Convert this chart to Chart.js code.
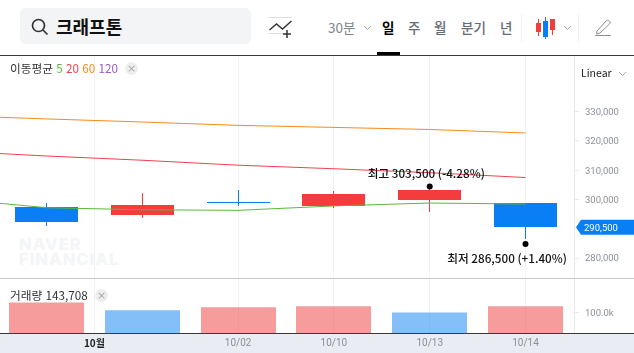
<!DOCTYPE html>
<html lang="ko">
<head>
<meta charset="utf-8">
<title>크래프톤</title>
<script src="https://cdn.jsdelivr.net/npm/chart.js@4"></script>
<style>
  html, body { margin: 0; padding: 0; background: #fff; }
  body { width: 634px; height: 353px; position: relative; overflow: hidden; font-family: "Noto Sans CJK KR", "Noto Sans", sans-serif; color: #333; }
  .abs { position: absolute; white-space: nowrap; }
  #search { left: 20px; top: 8px; width: 231px; height: 36px; border-radius: 6px; background: #f3f4f6; }
  #name { left: 56px; top: 13px; font-size: 18px; line-height: 26px; font-weight: 700; color: #111; }
  .tab { top: 17px; font-size: 13.5px; line-height: 20px; color: #666c75; font-weight: 500; }
  #topline { left: 0; top: 55px; width: 634px; height: 1px; background: #3a3a3a; }
  #active { left: 377px; top: 52px; width: 23px; height: 3px; background: #000; }
  .sep { top: 14px; width: 1px; height: 28px; background: #f1f2f4; }
  #band { left: 0; top: 333px; width: 574px; height: 20px; background: #e9ecf2; }
  #band2 { left: 574px; top: 334px; width: 60px; height: 19px; background: #e9ecf2; }
  #mark { left: 19px; top: 237px; font: 800 16.5px/14.5px Inter, sans-serif; letter-spacing: 1px; color: #f3f5f7; }
  canvas { position: absolute; left: 0; }
  #mainChart { top: 56px; }
  #volChart { top: 278px; }
  .lbl { font-size: 11.7px; line-height: 14px; color: #333; }
  .close { width: 13px; height: 13px; border-radius: 50%; background: #eeeeee; color: #aaa; font: 11px/13px "DejaVu Sans", sans-serif; text-align: center; }
</style>
</head>
<body>
<div class="abs" id="mark">NAVER<br>FINANCIAL</div>
<div class="abs" id="band"></div>
<div class="abs" id="band2"></div>
<canvas id="mainChart" width="634" height="222"></canvas>
<canvas id="volChart" width="634" height="75"></canvas>

<div class="abs" id="search"></div>
<svg class="abs" style="left:30px;top:17px" width="20" height="20" viewBox="0 0 20 20" fill="none" stroke="#333" stroke-width="1.7"><circle cx="8.5" cy="8.5" r="6"/><path d="M13 13l4.5 4.5"/></svg>
<div class="abs" id="name">크래프톤</div>
<svg class="abs" style="left:268px;top:16px" width="26" height="24" viewBox="0 0 26 24" fill="none"><path d="M1 1.5h23M1 17.5h14" stroke="#ddd" stroke-width="1"/><path d="M1.5 14l7-6 6 5 9-8" stroke="#333" stroke-width="1.4"/><path d="M19 14v8M15 18h8" stroke="#333" stroke-width="1.5"/></svg>
<div class="abs tab" style="left:328px;font-weight:400;color:#80858c">30분</div>
<svg class="abs" style="left:363px;top:25px" width="9" height="6" fill="none" stroke="#aaa"><path d="M1 1l3.500 3.500L8 1"/></svg>
<div class="abs tab" style="left:382px;color:#000;font-weight:700">일</div>
<div class="abs tab" style="left:408px">주</div>
<div class="abs tab" style="left:434px">월</div>
<div class="abs tab" style="left:461px">분기</div>
<div class="abs tab" style="left:500px">년</div>
<div class="abs sep" style="left:521px"></div>
<svg class="abs" style="left:535px;top:16px" width="24" height="24"><path d="M3.500 3v17M17.500 3v16" stroke="#f43c3c"/><path d="M10.500 1v22" stroke="#0a7ff5"/><rect x="1" y="7" width="5" height="9" fill="#f43c3c"/><rect x="8" y="5" width="5" height="16" fill="#0a7ff5"/><rect x="15" y="3" width="5" height="11" fill="#f43c3c"/></svg>
<svg class="abs" style="left:563px;top:25px" width="9" height="6" fill="none" stroke="#aaa"><path d="M1 1l3.500 3.500L8 1"/></svg>
<div class="abs sep" style="left:578px"></div>
<svg class="abs" style="left:594px;top:18px" width="18" height="19" fill="none" stroke="#8b8f96"><path d="M3 13L12 3c1-1 2.500-1 3.500 0s1 2 0 3L6 15l-3.500 1z"/><path d="M1 17.500h16"/></svg>
<div class="abs" id="topline"></div>
<div class="abs" id="active"></div>

<div class="abs lbl" style="left:10px;top:61px">이동평균 <span style="color:#5cb83c">5</span> <span style="color:#f0414c">20</span> <span style="color:#f98a1c">60</span> <span style="color:#9b59c9">120</span></div>
<div class="abs close" style="left:125px;top:62px">×</div>
<div class="abs" style="left:581px;top:66px;font-size:10.5px;line-height:14px;color:#222">Linear</div>
<svg class="abs" style="left:618px;top:71px" width="9" height="6" fill="none" stroke="#aaa"><path d="M1 1l3.500 3.500L8 1"/></svg>
<div class="abs lbl" style="left:10px;top:288px">거래량 143,708</div>
<div class="abs close" style="left:95px;top:289px">×</div>

<script>
const dates = ['09/30', '10/01', '10/02', '10/10', '10/13', '10/14'];
const opens = [297400, 294700, 299200, 297900, 299800, 298800];
const closes = [292300, 298100, 298900, 301900, 303400, 290500];
const highs = [298800, 302200, 303200, 302900, 303500, 298800];
const lows = [291000, 293700, 297900, 297100, 295800, 286500];
const volumes = [150000, 112000, 127000, 132000, 101000, 132000];
const volumeRising = [true, false, true, true, false, true];

// moving averages, first point sits one day before the visible window
const maDays = [-1, 0, 1, 2, 3, 4, 5];
const ma5 = [300300, 297200, 296500, 296300, 297800, 298800, 298450];
const ma20 = [316550, 314850, 313400, 311700, 310500, 309150, 307500];
const ma60 = [328670, 327500, 326450, 325300, 324600, 323900, 322700];

const xTickDays = [0.5, 2, 3, 4, 5];
const xTickLabels = ['10월', '10/02', '10/10', '10/13', '10/14'];
const priceTicks = [280000, 290000, 300000, 310000, 320000, 330000];
const volumeTicks = [100000];

const highDay = 4, highPrice = 303500, highDot = 304400, highText = '최고 303,500 (-4.28%)';
const lowDay = 5, lowPrice = 286500, lowDot = 284800, lowText = '최저 286,500 (+1.40%)';
const lastPrice = 290500;

const RED = '#f43c3c', BLUE = '#0a7ff5';
const candleColor = i => closes[i] >= opens[i] ? RED : BLUE;
const GRID = '#f0f2f6';

// same x range for both panes so the gridlines line up
const xBase = {
  type: 'linear', min: -0.4854, max: 5.506, offset: false,
  afterBuildTicks: s => { s.ticks = xTickDays.map(v => ({ value: v })); },
  border: { display: false },
  grid: { color: GRID, drawTicks: false, offset: false }
};

function rightAxis(min, max, values, fmt, axisColor) {
  return {
    type: 'linear', position: 'right', min, max,
    afterBuildTicks: s => { s.ticks = values.map(v => ({ value: v })); },
    afterFit: s => { s.width = 60; s.paddingTop = 0; s.paddingBottom = 0; },
    border: { display: true, color: axisColor },
    grid: { drawOnChartArea: false, tickLength: 5, tickColor: '#e8eaee' },
    ticks: { callback: fmt, color: '#8b909a', font: { size: 9.500, family: 'Roboto' }, padding: 6, labelOffset: 1, autoSkip: false, maxRotation: 0 }
  };
}

// keep candles on whole pixels like the original
const snapBars = {
  id: 'snapBars',
  afterDatasetsUpdate(chart) {
    chart.getSortedVisibleDatasetMetas().forEach(m => {
      if (m.type !== 'bar') return;
      const snapY = chart.canvas.id === 'mainChart';
      m.data.forEach(el => {
        el.x = Math.floor(el.x) + 0.5;
        if (snapY) {
          const top = Math.round(Math.min(el.y, el.base));
          el.base = Math.max(Math.round(Math.max(el.y, el.base)), top + 1);
          el.y = top;
        }
      });
    });
  }
};

const priceLabels = {
  id: 'priceLabels',
  afterDraw(chart) {
    const { ctx, scales: { x, y } } = chart;
    ctx.save();
    ctx.font = '500 11.7px "Noto Sans CJK KR"';
    ctx.fillStyle = '#111';
    ctx.textAlign = 'center';
    ctx.textBaseline = 'middle';
    ctx.fillText(highText, x.getPixelForValue(highDay) - 3.5, y.getPixelForValue(highPrice) - 16);
    ctx.fillText(lowText, x.getPixelForValue(lowDay) - 18.5, y.getPixelForValue(lowPrice) + 20);

    // current price flag
    const py = y.getPixelForValue(lastPrice);
    ctx.fillStyle = BLUE;
    ctx.beginPath();
    ctx.moveTo(576, py);
    ctx.lineTo(581, py - 7.500);
    ctx.lineTo(634, py - 7.500);
    ctx.lineTo(634, py + 7.500);
    ctx.lineTo(581, py + 7.500);
    ctx.closePath();
    ctx.fill();
    ctx.fillStyle = '#fff';
    ctx.font = '9.500px Roboto';
    ctx.textAlign = 'left';
    ctx.fillText(lastPrice.toLocaleString('en-US'), 584, py + 1);
    ctx.restore();
  }
};

const maLine = (label, values, color) => ({
  type: 'line', label, order: 1, borderColor: color, borderWidth: 1, pointRadius: 0, tension: 0,
  data: maDays.map((d, i) => ({ x: d, y: values[i] }))
});

new Chart(document.getElementById('mainChart'), {
  data: {
    datasets: [
      maLine('5', ma5, '#5cb83c'),
      maLine('20', ma20, '#f0414c'),
      maLine('60', ma60, '#f98a1c'),
      {
        type: 'line', label: 'extremes', order: 0, showLine: false, pointRadius: 3,
        pointBackgroundColor: '#000', pointBorderWidth: 0,
        data: [{ x: highDay, y: highDot }, { x: lowDay, y: lowDot }]
      },
      {
        type: 'bar', label: 'body', order: 2, grouped: false, barThickness: 63, inflateAmount: 0,
        backgroundColor: dates.map((d, i) => candleColor(i)),
        data: dates.map((d, i) => ({ x: i, y: [opens[i], closes[i]] }))
      },
      {
        type: 'bar', label: 'wick', order: 3, grouped: false, barThickness: 1, inflateAmount: 0,
        backgroundColor: dates.map((d, i) => candleColor(i)),
        data: dates.map((d, i) => ({ x: i, y: [lows[i], highs[i]] }))
      }
    ]
  },
  options: {
    responsive: false,
    animation: false,
    layout: { padding: 0, autoPadding: false },
    plugins: { legend: { display: false }, tooltip: { enabled: false } },
    scales: {
      x: { ...xBase, afterFit: s => { s.height = 0; s.paddingLeft = 0; s.paddingRight = 0; }, ticks: { display: false } },
      y: rightAxis(273208, 348976, priceTicks, v => v.toLocaleString('en-US'), '#e8eaee')
    }
  },
  plugins: [snapBars, priceLabels]
});

new Chart(document.getElementById('volChart'), {
  data: {
    datasets: [{
      type: 'bar', label: '거래량', grouped: false, barThickness: 75, inflateAmount: 0,
      backgroundColor: dates.map((d, i) => volumeRising[i] ? 'rgba(238,58,58,.5)' : 'rgba(10,127,245,.5)'),
      data: dates.map((d, i) => ({ x: i, y: volumes[i] }))
    }]
  },
  options: {
    responsive: false,
    animation: false,
    layout: { padding: 0, autoPadding: false },
    plugins: { legend: { display: false }, tooltip: { enabled: false } },
    scales: {
      x: {
        ...xBase,
        afterFit: s => { s.height = 20; s.paddingLeft = 0; s.paddingRight = 0; },
        ticks: {
          autoSkip: false, maxRotation: 0, padding: 4,
          callback: (v, i) => xTickLabels[i],
          color: c => c.index === 0 ? '#222' : '#8b909a',
          font: c => c.index === 0 ? { size: 10, weight: '700', family: 'Noto Sans CJK KR' } : { size: 10, family: 'Roboto' }
        }
      },
      y: rightAxis(0, 271000, volumeTicks, v => (v / 1000).toFixed(1) + 'k', '#e8eaee')
    }
  },
  plugins: [snapBars, {
    id: 'paneLines',
    afterDraw(chart) {
      const { ctx, chartArea: a } = chart;
      ctx.save();
      ctx.fillStyle = '#c2c8ce';
      ctx.fillRect(0, a.top, 634, 1);
      ctx.fillStyle = '#3a3a3a';
      ctx.fillRect(0, a.bottom, 634, 1);
      ctx.restore();
    }
  }]
});
</script>
</body>
</html>
